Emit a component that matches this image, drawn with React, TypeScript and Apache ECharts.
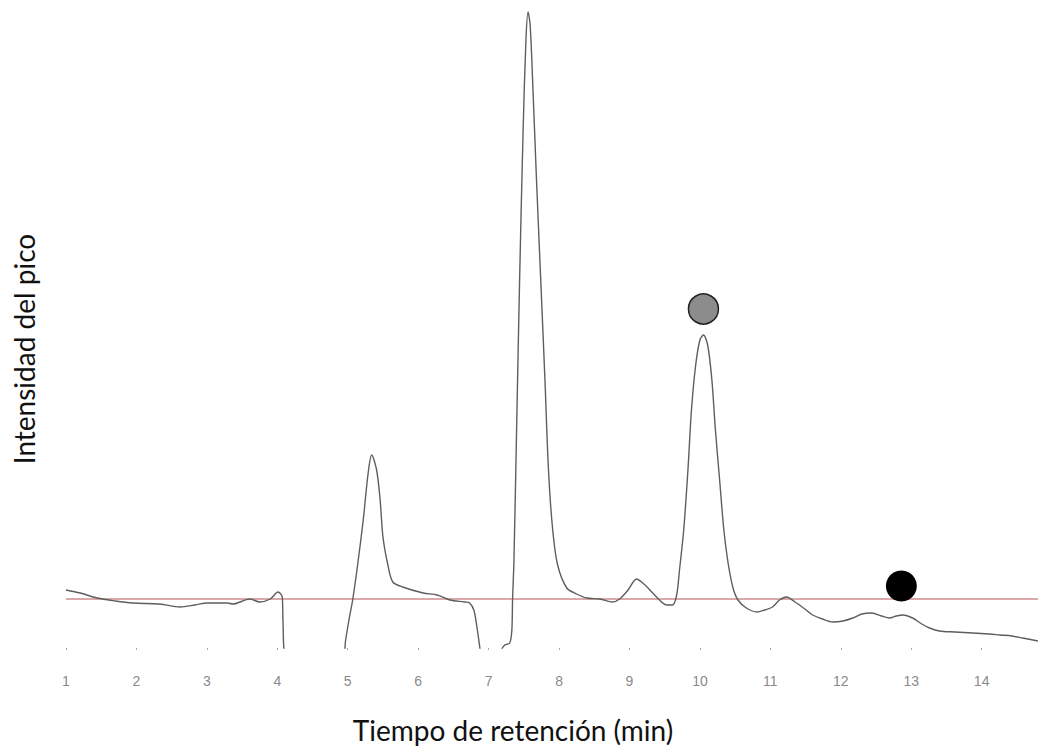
import React, { useEffect, useRef } from "react";
import * as echarts from "echarts";

// Retention time (min) and peak intensity (arbitrary units)
const retentionTime: number[] = [
  1.0, 1.2, 1.44, 1.7, 1.95, 2.33, 2.62, 2.83, 3.0, 3.29, 3.37, 3.61, 3.75, 3.9, 4.01, 4.07, 4.08, 4.11,
  4.5, 4.93, 4.97, 5.03, 5.07, 5.14, 5.22, 5.29, 5.34, 5.41, 5.46, 5.5, 5.57, 5.64, 5.78, 6.07, 6.27,
  6.45, 6.66, 6.73, 6.79, 6.83, 6.88, 6.92, 7.05, 7.18, 7.23, 7.3, 7.33, 7.34, 7.36, 7.4, 7.44, 7.49,
  7.53, 7.56, 7.59, 7.63, 7.68, 7.74, 7.8, 7.85, 7.91, 7.98, 8.11, 8.25, 8.39, 8.58, 8.76, 8.86, 8.98,
  9.1, 9.22, 9.33, 9.44, 9.53, 9.61, 9.67, 9.71, 9.77, 9.83, 9.88, 9.94, 10.0, 10.05, 10.11, 10.17,
  10.22, 10.28, 10.34, 10.4, 10.47, 10.54, 10.66, 10.81, 10.92, 11.03, 11.13, 11.23, 11.35, 11.49,
  11.6, 11.74, 11.89, 12.03, 12.17, 12.3, 12.44, 12.58, 12.69, 12.79, 12.88, 13.02, 13.15, 13.26,
  13.4, 13.62, 13.87, 14.11, 14.26, 14.43, 14.58, 14.8,
];
const intensity: number[] = [
  58, 55, 50, 47, 45, 44, 41, 43, 45, 45, 44, 49, 46, 49, 56, 51, 28, -12,
  -60, -12, 8, 33, 48, 83, 128, 175, 193, 178, 148, 111, 83, 66, 61, 55, 53,
  48, 46, 45, 38, 23, -2, -22, -25, -2, 3, 5, 18, 48, 88, 228, 368, 518,
  608, 636, 623, 558, 468, 368, 268, 178, 118, 83, 60, 54, 50, 49, 46, 49, 58,
  69, 63, 55, 47, 43, 43, 53, 78, 118, 178, 238, 283, 308, 313, 303, 268,
  218, 168, 118, 85, 60, 48, 40, 36, 38, 41, 48, 51, 46, 39,
  33, 29, 26, 27, 30, 34, 35, 32, 30, 32, 33, 30, 24, 20,
  17, 16, 15, 14, 13, 12, 10, 7,
];
const baselineLevel = 49;
// Marked peaks: [retention time, marker height]
const greyMarker: number[] = [10.05, 339];
const blackMarker: number[] = [12.86, 62];
const xTicks: number[] = [1, 2, 3, 4, 5, 6, 7, 8, 9, 10, 11, 12, 13, 14];
const xTitle = "Tiempo de retención (min)";
const yTitle = "Intensidad del pico";

export default function App() {
  const ref = useRef<HTMLDivElement>(null);
  useEffect(() => {
    if (!ref.current) return;
    const chart = echarts.init(ref.current, null, { renderer: "svg" });
    const lineData = retentionTime.map((t, i) => [t, intensity[i]]);
    chart.setOption({
      animation: false,
      backgroundColor: "#ffffff",
      grid: {
        left: 66,
        right: 0,
        top: 8,
        bottom: 98,
        containLabel: false,
        outerBoundsMode: "none",
      },
      graphic: [
        {
          type: "text",
          x: 513,
          y: 730,
          style: {
            text: xTitle,
            fontFamily: "Lato",
            fontSize: 28,
            fill: "#111",
            textAlign: "center",
            textVerticalAlign: "middle",
          },
        },
        {
          type: "text",
          x: 24,
          y: 349,
          rotation: Math.PI / 2,
          style: {
            text: yTitle,
            fontFamily: "Lato",
            fontSize: 28,
            fill: "#111",
            textAlign: "center",
            textVerticalAlign: "middle",
          },
        },
      ],
      xAxis: {
        type: "value",
        min: 1,
        max: 14.8,
        axisLine: { show: false },
        axisTick: {
          show: true,
          length: 2,
          customValues: xTicks,
          lineStyle: { color: "#aaa", width: 1 },
        },
        axisLabel: {
          customValues: xTicks,
          margin: 26,
          fontFamily: "Liberation Sans",
          fontSize: 14,
          color: "#8a8a8a",
        },
        splitLine: { show: false },
      },
      yAxis: {
        type: "value",
        min: 0,
        max: 640,
        axisLine: { show: false },
        axisTick: { show: false },
        axisLabel: { show: false },
        splitLine: { show: false },
      },
      series: [
        {
          type: "line",
          data: lineData,
          smooth: 0.3,
          showSymbol: false,
          clip: true,
          lineStyle: { color: "#5e5e5e", width: 1.4 },
          markLine: {
            silent: true,
            symbol: "none",
            label: { show: false },
            lineStyle: { color: "#dba9a9", width: 2, type: "solid" },
            data: [{ yAxis: baselineLevel }],
            z: 1,
          },
          z: 3,
        },
        {
          type: "scatter",
          data: [greyMarker],
          symbolSize: 30,
          itemStyle: { color: "#8c8c8c", borderColor: "#222", borderWidth: 1.5, opacity: 1 },
          z: 4,
        },
        {
          type: "scatter",
          data: [blackMarker],
          symbolSize: 31,
          itemStyle: { color: "#000000", opacity: 1 },
          z: 4,
        },
      ],
    });
    return () => chart.dispose();
  }, []);
  return (
    <div
      ref={ref}
      style={{ position: "fixed", left: 0, top: 0, width: 1038, height: 746 }}
    />
  );
}
